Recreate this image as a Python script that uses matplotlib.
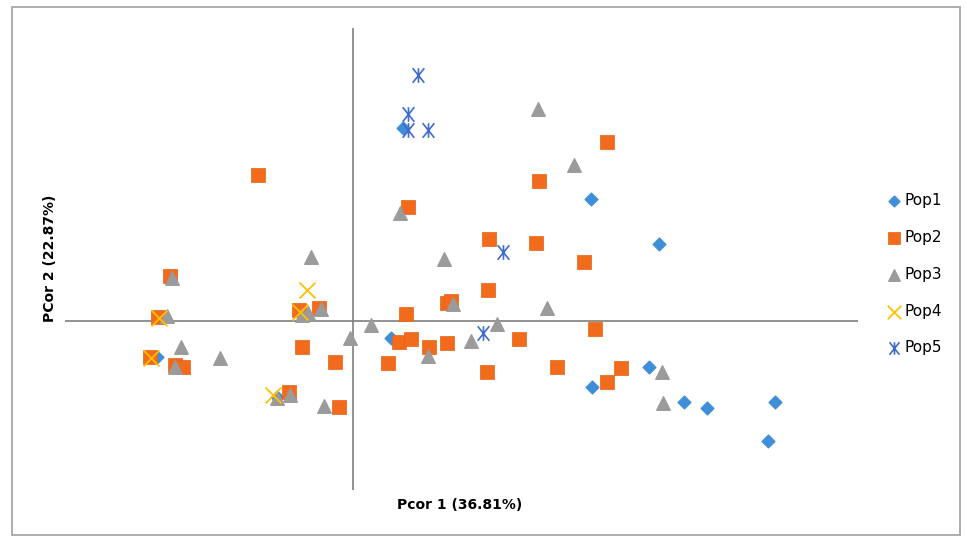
import matplotlib.pyplot as plt
from matplotlib.path import Path
from matplotlib.patches import Rectangle

# PCoA coordinates (axis 1, axis 2)
pop1_x = [0.50, 2.38, 3.06, 0.38, -1.96, -0.76, 2.96, 2.39, 3.31, 3.54, 4.22, 4.15]
pop1_y = [1.93, 1.22, 0.77, -0.17, -0.36, -0.76, -0.46, -0.66, -0.81, -0.87, -0.81, -1.20]

pop2_x = [-0.95, -1.83, -0.54, -0.34, -1.95, -0.51, -0.18, -2.03, -1.78, -1.70, -0.64, -0.14,
          2.54, 1.86, 0.55, 1.36, 1.83, 2.31, 1.35, 0.94, 0.98, 0.53, 2.42, 0.46, 0.58,
          0.76, 0.94, 1.66, 0.35, 1.34, 2.04, 2.68, 2.54]
pop2_y = [1.46, 0.45, 0.11, 0.13, 0.04, -0.26, -0.41, -0.36, -0.44, -0.46, -0.71, -0.86,
          1.79, 1.40, 1.14, 0.82, 0.78, 0.59, 0.31, 0.18, 0.20, 0.07, -0.08, -0.21, -0.18,
          -0.26, -0.22, -0.18, -0.42, -0.51, -0.46, -0.47, -0.61]

pop3_x = [-0.42, -1.81, -0.45, -0.32, -0.51, -1.86, -0.03, -1.72, -1.33, -1.78, -0.63, -0.76,
          -0.29, 1.85, 2.21, 0.47, 0.91, 1.00, 1.94, 0.18, 1.44, 1.18, 0.75, 3.09, 3.10]
pop3_y = [0.64, 0.43, 0.08, 0.12, 0.06, 0.05, -0.17, -0.26, -0.37, -0.46, -0.74, -0.77,
          -0.85, 2.12, 1.56, 1.08, 0.62, 0.17, 0.13, -0.04, -0.03, -0.20, -0.35, -0.51, -0.82]

pop4_x = [-0.46, -0.53, -1.94, -2.02, -0.80]
pop4_y = [0.31, 0.09, 0.03, -0.37, -0.74]

pop5_x = [0.65, 0.55, 0.55, 0.75, 1.50, 1.30]
pop5_y = [2.46, 2.07, 1.91, 1.91, 0.69, -0.12]

labels = ["Pop1", "Pop2", "Pop3", "Pop4", "Pop5"]

# Excel style star: an X with a vertical bar
star = Path([(-0.8, -1), (0.8, 1), (-0.8, 1), (0.8, -1), (0, -1), (0, 1)],
            [Path.MOVETO, Path.LINETO, Path.MOVETO, Path.LINETO, Path.MOVETO, Path.LINETO])

fig = plt.figure(figsize=(9.66, 5.4), dpi=100)
ax = fig.add_axes([65 / 966, 1 - 490 / 540, (858 - 65) / 966, (490 - 28) / 540])

ax.axhline(0, color="#7f7f7f", lw=1.2, zorder=1)
ax.axvline(0, color="#7f7f7f", lw=1.2, zorder=1)

ax.scatter(pop1_x, pop1_y, marker="D", s=42, color="#3f8fd8", label=labels[0], zorder=3)
ax.scatter(pop2_x, pop2_y, marker="s", s=90, color="#f26b1d", edgecolors="#e8600f",
           linewidths=0.5, label=labels[1], zorder=3)
ax.scatter(pop3_x, pop3_y, marker="^", s=95, color="#9b9b9b", label=labels[2], zorder=3)
ax.scatter(pop4_x, pop4_y, marker="x", s=130, color="#ffc000", linewidths=1.3,
           label=labels[3], zorder=4)
ax.scatter(pop5_x, pop5_y, marker=star, s=110, color="#3d6ccc", linewidths=1.2,
           label=labels[4], zorder=4)

ax.set_xlim(-2.88, 5.05)
ax.set_ylim(-1.69, 2.93)
for sp in ax.spines.values():
  sp.set_visible(False)
ax.set_xticks([])
ax.set_yticks([])

fig.text(460 / 966, 1 - 505 / 540, "Pcor 1 (36.81%)", ha="center", va="center",
         fontsize=10, fontweight="bold")
fig.text(50 / 966, 1 - 258 / 540, "PCor 2 (22.87%)", ha="center", va="center",
         fontsize=10, fontweight="bold", rotation=90)

fig.legend(loc="upper left", bbox_to_anchor=(888 / 966, 1 - 193 / 540), frameon=False,
           scatterpoints=1, handlelength=0.8, handletextpad=0.3, labelspacing=1.43,
           fontsize=11, markerscale=0.85, borderaxespad=0, borderpad=0)

fig.add_artist(Rectangle((12 / 966, 5 / 540), 948 / 966, 528 / 540, transform=fig.transFigure,
                         fill=False, edgecolor="#a0a0a0", lw=1.2))

fig.savefig("out.png", dpi=100)
